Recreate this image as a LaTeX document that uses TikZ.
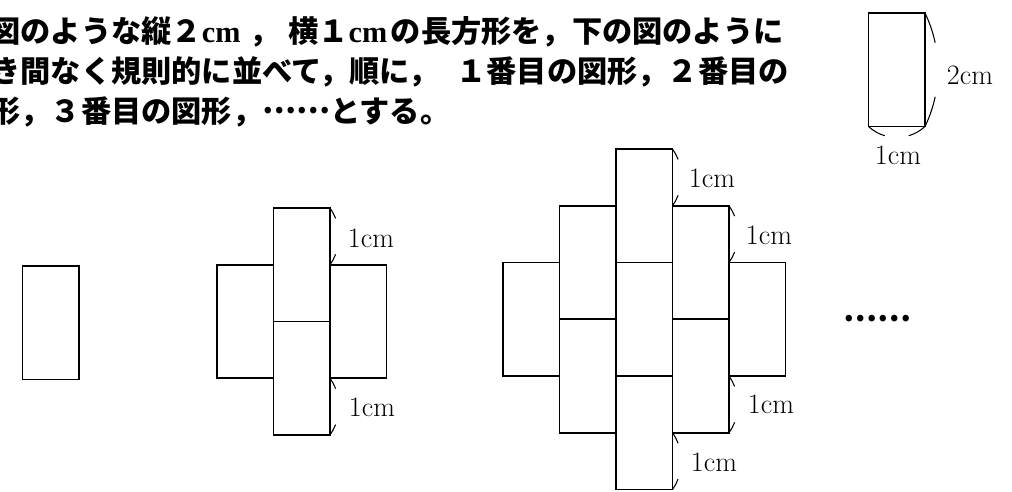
\documentclass[tikz,border=0pt]{standalone}
\usepackage{fontspec}
\newfontfamily\jpfont{Noto Sans CJK JP}
\newfontfamily\lserif{Liberation Serif}
\tikzset{
  box/.style={draw, line width=1pt},
  dimarc/.style={line width=0.6pt},
  lbl/.style={font=\fontsize{16}{16}\selectfont, inner sep=0pt},
  jp/.style={font=\jpfont\bfseries\fontsize{17.2}{17.2}\selectfont, inner sep=0pt}
}
\newcommand\gaparc[6]{%
  \pgfmathsetmacro\gpR{(#4*#4+#5*#5)/(2*#5)}%
  \pgfmathsetmacro\gpA{asin(#4/\gpR)}%
  \pgfmathsetmacro\gpB{asin(#6/\gpR)}%
  \pgfmathsetmacro\gpD{#5-\gpR}%
  \pgfmathsetmacro\gpCx{#1+\gpD*cos(#3)}%
  \pgfmathsetmacro\gpCy{#2+\gpD*sin(#3)}%
  \pgfmathsetmacro\gpSa{#3-\gpA}\pgfmathsetmacro\gpEa{#3-\gpB}%
  \pgfmathsetmacro\gpSb{#3+\gpB}\pgfmathsetmacro\gpEb{#3+\gpA}%
  \draw[dimarc] (\gpCx,\gpCy) ++(\gpSa:\gpR) arc[start angle=\gpSa, end angle=\gpEa, radius=\gpR];
  \draw[dimarc] (\gpCx,\gpCy) ++(\gpSb:\gpR) arc[start angle=\gpSb, end angle=\gpEb, radius=\gpR];
}
\newcommand\cmb{{\lserif\bfseries cm}}
\begin{document}
\begin{tikzpicture}[x=0.02cm, y=-0.02cm]
\useasboundingbox (0,0) rectangle (1012,491);
\fill[white] (0,0) rectangle (1012,491);
% text
\node[jp, anchor=base west] (l1) at (-10,42.4) {図のような縦２\cmb\kern5pt，\kern5pt横１\cmb\kern2pt の長方形を，下の図のように};
\node[jp, anchor=base west] (l2) at (-10,82.4) {き間なく規則的に並べて，順に，\kern10pt１番目の図形，２番目の};
\node[jp, anchor=base west] (l3) at (-10,122.4) {形，３番目の図形，\raisebox{0.3em}{……}とする。};
% top-right rectangle
\draw[box] (868.5,13) rectangle (925,126.5);
\gaparc{925}{69.75}{0}{56.75}{13}{27}
\gaparc{896.75}{126.5}{90}{28.25}{11}{12}
\node[lbl] (r2cm) at (970,75) {2cm};
\node[lbl] (r1cm) at (898,155) {1cm};
% figure 1
\draw[box] (22.5,266) rectangle (79,379.5);
% figure 2
\draw[box] (273.5,208) rectangle (330,321.5);
\draw[box] (273.5,321.5) rectangle (330,435);
\draw[box] (217,264.75) rectangle (273.5,378.25);
\draw[box] (330,264.75) rectangle (386.5,378.25);
\gaparc{330}{236.4}{0}{28.4}{9}{18}
\gaparc{330}{406.6}{0}{28.4}{9}{18}
\node[lbl] (f2a) at (371,238) {1cm};
\node[lbl] (f2b) at (372,407) {1cm};
% figure 3
\draw[box] (503,262.5) rectangle (559.5,376);
\draw[box] (559.5,205.75) rectangle (616,319.25);
\draw[box] (559.5,319.25) rectangle (616,432.75);
\draw[box] (616,149) rectangle (672.5,262.5);
\draw[box] (616,262.5) rectangle (672.5,376);
\draw[box] (616,376) rectangle (672.5,489.5);
\draw[box] (672.5,205.75) rectangle (729,319.25);
\draw[box] (672.5,319.25) rectangle (729,432.75);
\draw[box] (729,262.5) rectangle (785.5,376);
\gaparc{672.5}{177.4}{0}{28.4}{9}{18}
\gaparc{729}{234.1}{0}{28.4}{9}{18}
\gaparc{729}{404.4}{0}{28.4}{9}{18}
\gaparc{672.5}{461.1}{0}{28.4}{9}{18}
\node[lbl] (f3a) at (712,178) {1cm};
\node[lbl] (f3b) at (769,235) {1cm};
\node[lbl] (f3c) at (771,404) {1cm};
\node[lbl] (f3d) at (714,462) {1cm};
% continuation dots
\node[jp] (dots) at (877,319) {……};
\end{tikzpicture}
\end{document}
